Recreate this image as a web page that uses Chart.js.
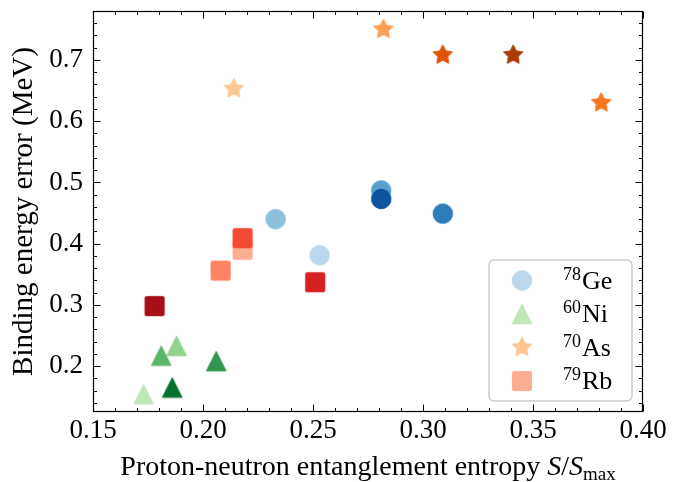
<!DOCTYPE html>
<html>
<head>
<meta charset="utf-8">
<script src="https://cdn.jsdelivr.net/npm/chart.js@4.4.1/dist/chart.umd.min.js"></script>
<style>
  html, body { margin: 0; padding: 0; background: #ffffff; }
  #wrap { width: 694px; height: 482px; }
</style>
</head>
<body>
<div id="wrap"><canvas id="c" width="694" height="482"></canvas></div>
<script>
// ---------- data ----------
const massNumbers = ['78', '60', '70', '79'];
const elements = ['Ge', 'Ni', 'As', 'Rb'];

const geX = [0.253, 0.233, 0.281, 0.309, 0.281];
const geY = [0.381, 0.440, 0.487, 0.449, 0.473];
const geColors = ['#bcd7eb', '#8dc0dd', '#58a1cf', '#2d7dbb', '#0b559f'];

const niX = [0.173, 0.188, 0.181, 0.206, 0.186];
const niY = [0.154, 0.233, 0.217, 0.208, 0.165];
const niColors = ['#c1e6ba', '#91d28e', '#5ab769', '#2f974e', '#04702f'];

const asX = [0.214, 0.282, 0.381, 0.309, 0.341];
const asY = [0.653, 0.750, 0.630, 0.708, 0.708];
const asColors = ['#fdc692', '#fd9e54', '#f57622', '#e05206', '#ab3a03'];

const rbX = [0.218, 0.208, 0.218, 0.251, 0.178];
const rbY = [0.390, 0.356, 0.409, 0.337, 0.298];
const rbColors = ['#fcae92', '#fc8262', '#f34a36', '#d52221', '#a50f15'];

const xTickValues = [0.15, 0.20, 0.25, 0.30, 0.35, 0.40];
const yTickValues = [0.2, 0.3, 0.4, 0.5, 0.6, 0.7];
const xMin = 0.15, xMax = 0.40;
const yMin = 0.125, yMax = 0.78;
const xMinorStep = 0.01, yMinorStep = 0.02;

const yTitle = 'Binding energy error (MeV)';
const xTitleText = 'Proton-neutron entanglement entropy ';
const xTitleVar = 'S';
const xTitleSub = 'max';

// ---------- styling ----------
const FONT = "'Liberation Serif', 'Times New Roman', serif";

function markerCanvas(shape, color) {
  const s = 28;
  const c = document.createElement('canvas');
  c.width = s; c.height = s;
  const g = c.getContext('2d');
  const m = s / 2;
  g.fillStyle = color;
  g.strokeStyle = color;
  g.lineWidth = 1;
  g.lineJoin = 'round';
  g.beginPath();
  if (shape === 'circle') {
    g.arc(m, m, 9.75, 0, Math.PI * 2);
  } else if (shape === 'triangle') {
    const h = 9.8;
    g.moveTo(m, m - h);
    g.lineTo(m + h, m + h);
    g.lineTo(m - h, m + h);
    g.closePath();
  } else if (shape === 'square') {
    const h = 9.6, r = 1.5;
    g.moveTo(m - h + r, m - h);
    g.arcTo(m + h, m - h, m + h, m + h, r);
    g.arcTo(m + h, m + h, m - h, m + h, r);
    g.arcTo(m - h, m + h, m - h, m - h, r);
    g.arcTo(m - h, m - h, m + h, m - h, r);
    g.closePath();
  } else if (shape === 'star') {
    const ro = 10.2, ri = 5.1;
    for (let i = 0; i < 10; i++) {
      const rad = (i % 2 === 0) ? ro : ri;
      const ang = -Math.PI / 2 + i * Math.PI / 5;
      const px = m + rad * Math.cos(ang), py = m + rad * Math.sin(ang);
      if (i === 0) g.moveTo(px, py); else g.lineTo(px, py);
    }
    g.closePath();
  }
  g.fill();
  g.stroke();
  return c;
}

function makeDataset(label, xs, ys, colors, shape) {
  const styles = colors.map(col => markerCanvas(shape, col));
  return {
    label: label,
    data: xs.map((x, i) => ({ x: x, y: ys[i] })),
    pointStyle: (ctx) => styles[ctx.dataIndex] || styles[0],
    pointRadius: 10,
    pointHoverRadius: 10,
    backgroundColor: colors[0],
    borderColor: colors[0],
    showLine: false,
    legendMarker: styles[0]
  };
}

const datasets = [
  makeDataset(massNumbers[0] + elements[0], geX, geY, geColors, 'circle'),
  makeDataset(massNumbers[1] + elements[1], niX, niY, niColors, 'triangle'),
  makeDataset(massNumbers[2] + elements[2], asX, asY, asColors, 'star'),
  makeDataset(massNumbers[3] + elements[3], rbX, rbY, rbColors, 'square')
];

const isMajor = (v, arr) => arr.some(t => Math.abs(t - v) < 1e-6);

const frameAndTicks = {
  id: 'frameAndTicks',
  afterDatasetsDraw(chart) {
    const { ctx, chartArea: a, scales } = chart;
    const xs = scales.x, ys = scales.y;
    ctx.save();
    ctx.strokeStyle = '#000';
    ctx.lineWidth = 1;
    const L = Math.round(a.left) + 0.5, R = Math.round(a.right) - 0.5;
    const T = Math.round(a.top) + 0.5, B = Math.round(a.bottom) - 0.5;
    ctx.beginPath();
    const nx = Math.round((xMax - xMin) / xMinorStep);
    for (let i = 0; i <= nx; i++) {
      const v = xMin + i * xMinorStep;
      const p = Math.round(xs.getPixelForValue(v)) + 0.5;
      const len = isMajor(v, xTickValues) ? 7 : 3.5;
      ctx.moveTo(p, B); ctx.lineTo(p, B - len);
      ctx.moveTo(p, T); ctx.lineTo(p, T + len);
    }
    const y0 = Math.ceil(yMin / yMinorStep - 1e-9);
    for (let k = y0; k * yMinorStep < yMax - 1e-9; k++) {
      const v = k * yMinorStep;
      const p = Math.round(ys.getPixelForValue(v)) + 0.5;
      const len = isMajor(v, yTickValues) ? 7 : 3.5;
      ctx.moveTo(L, p); ctx.lineTo(L + len, p);
      ctx.moveTo(R, p); ctx.lineTo(R - len, p);
    }
    ctx.stroke();
    ctx.lineWidth = 1.2;
    ctx.strokeRect(L, T, R - L, B - T);
    ctx.restore();
  }
};

const legendPlugin = {
  id: 'isoLegend',
  afterDraw(chart) {
    const { ctx, chartArea: a } = chart;
    const w = 143, h = 141;
    const bx = a.right - 11 - w, by = a.bottom - 11 - h;
    ctx.save();
    ctx.beginPath();
    const r = 5;
    ctx.moveTo(bx + r, by);
    ctx.arcTo(bx + w, by, bx + w, by + h, r);
    ctx.arcTo(bx + w, by + h, bx, by + h, r);
    ctx.arcTo(bx, by + h, bx, by, r);
    ctx.arcTo(bx, by, bx + w, by, r);
    ctx.closePath();
    ctx.fillStyle = 'rgba(255,255,255,0.8)';
    ctx.fill();
    ctx.strokeStyle = '#cccccc';
    ctx.lineWidth = 1.5;
    ctx.stroke();
    ctx.fillStyle = '#000';
    ctx.textBaseline = 'alphabetic';
    ctx.textAlign = 'left';
    chart.data.datasets.forEach((ds, i) => {
      const cy = by + 20.5 + i * 33.5;
      const img = ds.legendMarker;
      ctx.drawImage(img, bx + 33 - img.width / 2, cy - img.height / 2);
      const tx = bx + 74;
      ctx.font = '18px ' + FONT;
      ctx.fillText(massNumbers[i], tx, cy - 1);
      const sw = ctx.measureText(massNumbers[i]).width;
      ctx.font = '26px ' + FONT;
      ctx.fillText(elements[i], tx + sw + 1, cy + 8);
    });
    ctx.restore();
  }
};

const xTitlePlugin = {
  id: 'xTitle',
  afterDraw(chart) {
    const { ctx, chartArea: a } = chart;
    const main = '28px ' + FONT, ital = 'italic 28px ' + FONT, small = '19px ' + FONT;
    const parts = [
      { t: xTitleText, f: main, dy: 0 },
      { t: xTitleVar, f: ital, dy: 0 },
      { t: '/', f: main, dy: 0 },
      { t: xTitleVar, f: ital, dy: 0 },
      { t: xTitleSub, f: small, dy: 5 }
    ];
    ctx.save();
    let total = 0;
    parts.forEach(p => { ctx.font = p.f; p.w = ctx.measureText(p.t).width; total += p.w; });
    let x = (a.left + a.right) / 2 - total / 2;
    const base = 475;
    ctx.fillStyle = '#000';
    ctx.textBaseline = 'alphabetic';
    ctx.textAlign = 'left';
    parts.forEach(p => { ctx.font = p.f; ctx.fillText(p.t, x, base + p.dy); x += p.w; });
    ctx.restore();
  }
};

new Chart(document.getElementById('c'), {
  type: 'scatter',
  data: { datasets: datasets },
  options: {
    responsive: false,
    animation: false,
    devicePixelRatio: 1,
    layout: { padding: { top: 7, right: 51, left: 0, bottom: 0 } },
    plugins: { legend: { display: false }, tooltip: { enabled: false } },
    scales: {
      x: {
        type: 'linear',
        min: xMin, max: xMax,
        afterBuildTicks: s => { s.ticks = xTickValues.map(v => ({ value: v })); },
        afterFit: s => { s.height = 70; s.paddingLeft = 0; s.paddingRight = 0; },
        grid: { display: false, drawTicks: false },
        border: { display: false },
        ticks: {
          padding: 3, color: '#000', maxRotation: 0, autoSkip: false,
          font: { family: FONT, size: 27 },
          callback: v => Number(v).toFixed(2)
        },
        title: { display: false }
      },
      y: {
        type: 'linear',
        min: yMin, max: yMax,
        afterBuildTicks: s => { s.ticks = yTickValues.map(v => ({ value: v })); },
        afterFit: s => { s.width = 93; s.paddingTop = 0; s.paddingBottom = 0; },
        grid: { display: false, drawTicks: false },
        border: { display: false },
        ticks: {
          padding: 10, color: '#000', autoSkip: false,
          font: { family: FONT, size: 27 },
          callback: v => Number(v).toFixed(1)
        },
        title: {
          display: true, text: yTitle, color: '#000',
          font: { family: FONT, size: 29 },
          padding: { top: 7, bottom: 0 }
        }
      }
    }
  },
  plugins: [frameAndTicks, legendPlugin, xTitlePlugin]
});
</script>
</body>
</html>
